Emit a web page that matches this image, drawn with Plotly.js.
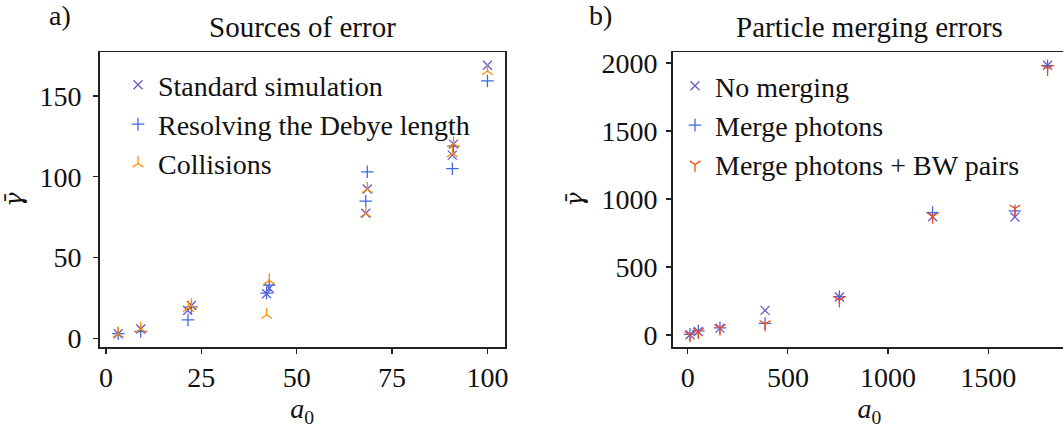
<!DOCTYPE html>
<html>
<head>
<meta charset="utf-8">
<script src="https://cdn.plot.ly/plotly-3.0.1.min.js"></script>
<style>
  html, body { margin: 0; padding: 0; overflow: hidden; background: #fff; }
  #chart { width: 1070px; height: 432px; }
</style>
</head>
<body>
<div id="chart"></div>
<script>
// Panel a) — sources of error
const a0Standard   = [3.2, 9.1, 21.4, 22.4, 42.1, 42.8, 68.1, 68.5, 90.8, 91.1, 100];
const gammaStandard = [2.9, 5.8, 17.3, 20.4, 27.6, 31.0, 77.4, 92.4, 113.4, 120.2, 169];
const a0Debye      = [3.2, 9.1, 21.5, 22.4, 42.1, 42.8, 68.1, 68.5, 90.8, 91.1, 100];
const gammaDebye   = [3.0, 4.3, 11.5, 19.5, 28.0, 33.0, 85.0, 103.1, 105.0, 119.0, 159.3];
const a0Coll       = [3.2, 9.1, 21.6, 22.4, 42.1, 42.8, 68.1, 68.5, 90.8, 91.1, 100];
const gammaColl    = [2.9, 5.8, 18.8, 20.4, 14.6, 35.8, 77.4, 92.4, 114.5, 120.5, 165.4];

// Panel b) — particle merging errors
const a0Merge        = [11.5, 53, 161, 386, 757, 1222, 1633, 1796];
const gammaNoMerge   = [2, 26, 51, 181, 279, 870, 868, 1983];
const gammaPhotons   = [5, 30, 53, 85, 282, 900, 912, 1980];
const gammaPhotonsBW = [0, 24, 50, 80, 256, 872, 930, 1958];

const ticksA_x = [0, 25, 50, 75, 100];
const ticksA_y = [0, 50, 100, 150];
const ticksB_x = [0, 500, 1000, 1500];
const ticksB_y = [0, 500, 1000, 1500, 2000];

const FONT = 'Liberation Serif, Times New Roman, serif';
const W = 1070, H = 432, T = 52, B = 85;
const px = v => v / W;
const py = v => (H - B - v) / (H - T - B);

function mk(x, y, name, symbol, color, xa, ya, legend) {
  return {
    type: 'scatter', mode: 'markers', x: x, y: y, name: name,
    xaxis: xa, yaxis: ya, legend: legend,
    marker: { symbol: symbol, size: 9, color: color,
              line: { color: color, width: 1.3 } },
    hoverinfo: 'x+y'
  };
}

const traces = [
  mk(a0Standard, gammaStandard, 'Standard simulation', 'x-thin', '#6a5acd', 'x', 'y', 'legend'),
  mk(a0Debye, gammaDebye, 'Resolving the Debye length', 'cross-thin', '#4169e1', 'x', 'y', 'legend'),
  mk(a0Coll, gammaColl, 'Collisions', 'y-up', '#ff8c00', 'x', 'y', 'legend'),
  mk(a0Merge, gammaNoMerge, 'No merging', 'x-thin', '#6a5acd', 'x2', 'y2', 'legend2'),
  mk(a0Merge, gammaPhotons, 'Merge photons', 'cross-thin', '#4169e1', 'x2', 'y2', 'legend2'),
  mk(a0Merge, gammaPhotonsBW, 'Merge photons + BW pairs', 'y-down', '#ff4500', 'x2', 'y2', 'legend2')
];

const axisBase = {
  showline: true, mirror: true, linecolor: '#222', linewidth: 1.5,
  showgrid: false, zeroline: false, ticks: 'outside', ticklen: 5, tickwidth: 1.2,
  tickcolor: '#222', tickfont: { family: FONT, size: 28, color: '#111' },
  tickmode: 'array', fixedrange: true
};
const xTitle = { text: '<i>a</i><sub>0</sub>', font: { family: FONT, size: 28, color: '#111' }, standoff: 4 };
const yTitle = { text: '<i>γ̄</i>',
                 font: { family: 'DejaVu Serif, serif', size: 24, color: '#111' }, standoff: 11 };

const layout = {
  width: W, height: H,
  margin: { l: 0, r: 0, t: T, b: B, pad: 0 },
  paper_bgcolor: '#fff', plot_bgcolor: '#fff',
  font: { family: FONT, color: '#111' },
  showlegend: true,
  xaxis: Object.assign({}, axisBase, { domain: [px(99.5), px(505)], range: [-1.7, 104.6],
    tickvals: ticksA_x, ticktext: ticksA_x.map(String), title: xTitle, anchor: 'y' }),
  yaxis: Object.assign({}, axisBase, { domain: [0, 1], range: [-5.3, 177.2], ticklabelstandoff: 6,
    tickvals: ticksA_y, ticktext: ticksA_y.map(String), title: yTitle, anchor: 'x' }),
  xaxis2: Object.assign({}, axisBase, { domain: [px(672.7), px(1066)], range: [-74.9, 1888],
    tickvals: ticksB_x, ticktext: ticksB_x.map(String), title: xTitle, anchor: 'y2' }),
  yaxis2: Object.assign({}, axisBase, { domain: [0, 1], range: [-88, 2080.7], ticklabelstandoff: 3,
    tickvals: ticksB_y, ticktext: ticksB_y.map(String), title: yTitle, anchor: 'x2' }),
  legend: { x: px(118), y: py(60), xanchor: 'left', yanchor: 'top',
    bgcolor: 'rgba(0,0,0,0)', font: { family: FONT, size: 28, color: '#111' } },
  legend2: { x: px(675), y: py(61), xanchor: 'left', yanchor: 'top',
    bgcolor: 'rgba(0,0,0,0)', font: { family: FONT, size: 28, color: '#111' } },
  annotations: [
    { text: 'a)', x: px(60), y: py(16), xref: 'paper', yref: 'paper', showarrow: false,
      xanchor: 'center', yanchor: 'middle', font: { family: FONT, size: 28, color: '#111' } },
    { text: 'b)', x: px(600), y: py(16), xref: 'paper', yref: 'paper', showarrow: false,
      xanchor: 'center', yanchor: 'middle', font: { family: FONT, size: 28, color: '#111' } },
    { text: 'Sources of error', x: px(302), y: py(27), xref: 'paper', yref: 'paper', showarrow: false,
      xanchor: 'center', yanchor: 'middle', font: { family: FONT, size: 29, color: '#111' } },
    { text: 'Particle merging errors', x: px(869), y: py(27), xref: 'paper', yref: 'paper', showarrow: false,
      xanchor: 'center', yanchor: 'middle', font: { family: FONT, size: 29, color: '#111' } }
  ]
};

Plotly.newPlot('chart', traces, layout, { staticPlot: true, displayModeBar: false });
</script>
</body>
</html>
